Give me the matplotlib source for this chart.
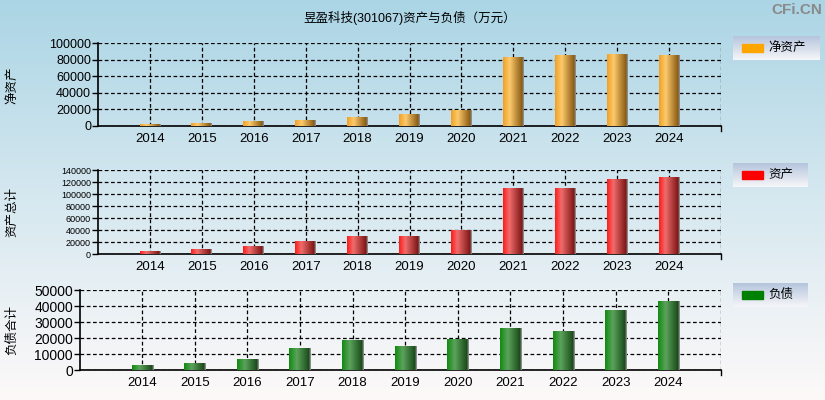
import numpy as np
import matplotlib
matplotlib.use("Agg")
import matplotlib.pyplot as plt
from matplotlib.colors import LinearSegmentedColormap
from matplotlib.patches import Rectangle

plt.rcParams["font.family"] = ["Liberation Sans", "Noto Sans CJK SC", "DejaVu Sans"]

years = [2014, 2015, 2016, 2017, 2018, 2019, 2020, 2021, 2022, 2023, 2024]
net_assets = [1600, 2800, 5200, 6400, 10000, 13500, 18300, 82900, 85300, 86500, 85300]
total_assets = [3900, 7800, 12200, 21100, 28900, 28900, 39400, 108900, 108900, 123900, 127200]
total_liab = [3100, 3800, 6300, 13200, 18200, 14400, 18800, 25700, 23800, 37000, 42700]

title = "昱盈科技(301067)资产与负债（万元）"

W, H = 825, 400
fig = plt.figure(figsize=(W / 100, H / 100), dpi=100)

# background gradient
bg = fig.add_axes([0, 0, 1, 1], zorder=-10)
bg_cmap = LinearSegmentedColormap.from_list("bg", ["#abd5e5", "#d6e8f0", "#fdf9f9"])
bg.imshow(np.linspace(0, 1, 256).reshape(-1, 1), cmap=bg_cmap, aspect="auto",
          extent=(0, 1, 0, 1))
bg.set_axis_off()

orange = LinearSegmentedColormap.from_list("o", [(0, "#f0a024"), (0.32, "#fdca6c"), (0.94, "#85560f"),
                                                 (0.941, "#8c8c8c"), (1, "#8c8c8c")])
red = LinearSegmentedColormap.from_list("r", [(0, "#ff1a1a"), (0.3, "#f06c6c"), (0.94, "#7a1212"),
                                              (0.941, "#8c8c8c"), (1, "#8c8c8c")])
green = LinearSegmentedColormap.from_list("g", [(0, "#108a10"), (0.35, "#5ca35c"), (0.94, "#174717"),
                                                (0.941, "#8c8c8c"), (1, "#8c8c8c")])


def px_axes(left, top, right, bottom):
    return fig.add_axes([left / W, 1 - bottom / H, (right - left) / W, (bottom - top) / H])


def draw_panel(ax, values, cmap, ymax, ystep, xmin, ysize):
    ax.patch.set_alpha(0)
    bars = ax.bar(years, values, width=0.4, color="none", zorder=3)
    grad = np.linspace(0, 1, 128).reshape(1, -1)
    for b in bars:
        x0, y0 = b.get_x(), b.get_y()
        ax.imshow(grad, cmap=cmap, aspect="auto", zorder=3, interpolation="bilinear",
                  extent=(x0, x0 + b.get_width(), y0, y0 + b.get_height()))
    ax.set_xlim(xmin, 2025)
    ax.set_ylim(0, ymax)
    ax.set_yticks(np.arange(0, ymax + 1, ystep))
    ax.set_xticks(years + [2025])
    ax.set_xticklabels([str(y) for y in years] + [""], fontsize=9.5)
    ax.tick_params(axis="x", length=0, pad=5)
    ax.tick_params(axis="y", length=4, width=1, direction="out", labelsize=ysize, pad=1)
    ax.grid(True, color="black", linestyle=(0, (3, 2)), linewidth=0.9, zorder=1)
    ax.spines["top"].set_visible(False)
    ax.spines["right"].set_visible(False)
    ax.spines["left"].set_linewidth(1.2)
    ax.spines["bottom"].set_linewidth(1.2)
    ax.plot([1, 1], [0, -0.06], transform=ax.transAxes, color="black", lw=1, clip_on=False)


def legend_box(left, top, right, bottom, color, label):
    lax = px_axes(left, top, right, bottom)
    lcmap = LinearSegmentedColormap.from_list("l", ["#b5c5dd", "#f6f6f9"])
    lax.imshow(np.linspace(0, 1, 64).reshape(-1, 1), cmap=lcmap, aspect="auto",
               extent=(0, 1, 0, 1))
    lax.set_xlim(0, 1)
    lax.set_ylim(0, 1)
    lax.set_axis_off()
    w = right - left
    lax.add_patch(Rectangle((9 / w, 0.33), 21 / w, 0.34, color=color))
    lax.text(35 / w, 0.5, label, fontsize=9, va="center", ha="left")


ax1 = px_axes(98, 43, 721, 126)
draw_panel(ax1, net_assets, orange, 100000, 20000, 2013, 9)
ax2 = px_axes(98, 170, 721, 254)
draw_panel(ax2, total_assets, red, 140000, 20000, 2013, 6.5)
ax3 = px_axes(80, 290, 721, 370)
draw_panel(ax3, total_liab, green, 50000, 10000, 2012.82, 10)

legend_box(733, 36, 820, 60, "#ffa500", "净资产")
legend_box(733, 163, 808, 187, "#ff0000", "资产")
legend_box(733, 283, 808, 307, "#008000", "负债")

fig.text(410 / W, 1 - 18 / H, title, fontsize=9, ha="center", va="center")
fig.text(822 / W, 1 - 10 / H, "CFi.CN", fontsize=11, fontweight="bold", color="#8a8a8a",
         ha="right", va="center")

fig.text(12 / W, 1 - 85 / H, "净资产", rotation=90, fontsize=9, ha="center", va="center")
fig.text(12 / W, 1 - 212 / H, "资产总计", rotation=90, fontsize=9, ha="center", va="center")
fig.text(12 / W, 1 - 330 / H, "负债合计", rotation=90, fontsize=9, ha="center", va="center")

fig.savefig("out.png", dpi=100)
